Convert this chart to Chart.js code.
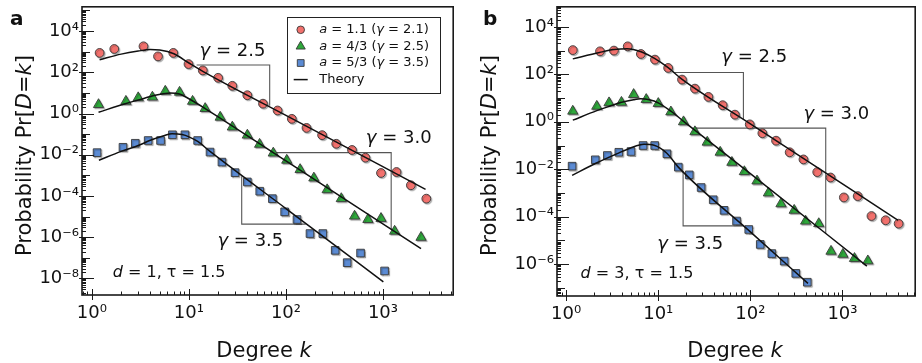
<!DOCTYPE html>
<html><head><meta charset="utf-8">
<script src="https://cdn.jsdelivr.net/npm/chart.js@4.4.1/dist/chart.umd.min.js"></script>
<style>
html,body{margin:0;padding:0;background:#fff;}
#wrap{width:922px;height:363px;display:flex;}
canvas{display:block;}
</style></head><body>
<div id="wrap"><canvas id="ca" width="460" height="363"></canvas><canvas id="cb" width="462" height="363"></canvas></div>
<script>
// ================= DATA =================
const xTickValues = [1, 10, 100, 1000];
const yTickValuesA = [1e-8, 1e-6, 1e-4, 1e-2, 1, 1e2, 1e4];
const yTickValuesB = [1e-6, 1e-4, 1e-2, 1, 1e2, 1e4];

const seriesNames = ['a = 1.1 (γ = 2.1)', 'a = 4/3 (γ = 2.5)', 'a = 5/3 (γ = 3.5)', 'Theory'];
const slopeLabels = ['2.5', '3.0', '3.5'];

// ---- Panel a: d = 1, tau = 1.5 ----
const aRedK = [1.2, 1.7, 3.4, 4.8, 6.9, 9.9, 13.9, 20, 28, 40, 58, 82, 115, 163, 236, 330, 480, 660, 955, 1380, 1940, 2800];
const aRedP = [870, 1350, 1820, 590, 870, 250, 123, 54, 22, 7.7, 3.0, 1.4, 0.55, 0.20, 0.089, 0.034, 0.017, 0.0072, 0.0013, 0.00145, 0.00033, 0.000074];
const aGreenK = [1.17, 2.24, 3.0, 4.2, 5.7, 8.0, 10.9, 14.7, 21, 28, 40, 53.5, 74, 102, 140, 194, 266, 372, 510, 700, 955, 1320, 2470];
const aGreenP = [2.7, 3.9, 5.8, 6.2, 12, 10.7, 3.9, 1.74, 0.66, 0.22, 0.089, 0.032, 0.012, 0.0054, 0.0019, 0.00074, 0.0002, 0.000074, 1.05e-5, 7.2e-6, 8.1e-6, 1.95e-6, 9.8e-7];
const aBlueK = [1.13, 2.09, 2.8, 3.8, 5.1, 6.76, 9.1, 12.3, 16.5, 21.9, 29.9, 40, 53.7, 72.5, 97, 130, 177, 240, 322, 428, 588, 1040];
const aBlueP = [0.0126, 0.023, 0.036, 0.049, 0.049, 0.093, 0.093, 0.049, 0.0135, 0.0044, 0.00135, 0.00048, 0.00017, 7.4e-5, 1.7e-5, 7.2e-6, 1.5e-6, 1.5e-6, 2.3e-7, 5.8e-8, 1.7e-7, 2.3e-8];

const aRedThK = [1.2, 2, 3, 4, 5, 7, 10, 15, 100, 2750];
const aRedThP = [407, 759, 1070, 1260, 1200, 794, 282, 91, 0.81, 0.00021];
const aGreenThK = [1.17, 2.2, 3, 4.5, 6.4, 8, 10, 14.7, 100, 2470];
const aGreenThP = [1.15, 3.0, 4.5, 7.6, 10, 8.9, 5.2, 1.74, 0.005, 2.8e-7];
const aBlueThK = [1.18, 2, 3, 4, 5.5, 6.7, 8.5, 10, 12.3, 16.5, 100, 1010];
const aBlueThP = [0.0054, 0.0145, 0.028, 0.05, 0.083, 0.105, 0.095, 0.074, 0.044, 0.0145, 2.45e-5, 6.8e-9];

const aSlopeK = [[12, 68, 68], [77, 1216, 1216], [35, 35, 160]];
const aSlopeP = [[227, 227, 2.4], [0.0126, 0.0126, 2.45e-6], [0.00091, 4.3e-6, 4.3e-6]];
const aLabelK = [28.1, 1456, 43, 6.25];
const aLabelP = [640, 0.0366, 3.7e-7, 1.2e-8];

// ---- Panel b: d = 3, tau = 1.5 ----
const bRedK = [1.18, 2.33, 3.3, 4.66, 6.47, 9.2, 12.8, 18.1, 25, 35, 50, 68, 98.4, 135, 190, 267, 377, 532, 742, 1035, 1462, 2065, 2940, 4070];
const bRedP = [1050, 930, 1000, 1510, 720, 417, 186, 60, 25, 11.2, 5.0, 2.0, 0.78, 0.33, 0.16, 0.052, 0.026, 0.0076, 0.0045, 0.00065, 0.00074, 0.000107, 7.1e-5, 5.1e-5];
const bGreenK = [1.18, 2.15, 2.92, 3.98, 5.4, 7.4, 10, 13.7, 18.8, 25, 34, 47, 63, 86, 118, 157, 215, 299, 398, 553, 751, 1010, 1350, 1885];
const bGreenP = [2.8, 4.5, 6.3, 6.6, 14.1, 8.7, 5.9, 2.6, 1.0, 0.38, 0.138, 0.052, 0.0195, 0.0079, 0.0032, 0.001, 0.00035, 0.000186, 6.5e-5, 5.1e-5, 3.5e-6, 2.6e-6, 1.74e-6, 1.38e-6];
const bBlueK = [1.16, 2.07, 2.8, 3.73, 5.06, 6.85, 9.15, 12.4, 16.5, 21.7, 29.2, 39.5, 51.8, 70.8, 96, 128, 171, 233, 311, 415];
const bBlueP = [0.0135, 0.025, 0.038, 0.052, 0.056, 0.1, 0.1, 0.045, 0.0123, 0.0058, 0.0017, 0.00052, 0.000186, 6.6e-5, 2.9e-5, 6.8e-6, 2.8e-6, 1.35e-6, 4.1e-7, 1.74e-7];

const bRedThK = [1.18, 2.3, 3.3, 4.6, 6.5, 9.2, 12.8, 18, 100, 4020];
const bRedThP = [447, 832, 1100, 1200, 891, 457, 190, 63, 0.82, 7.1e-5];
const bGreenThK = [1.18, 2.15, 3, 4, 5.4, 6.4, 8, 10, 13.7, 18.8, 100, 1840];
const bGreenThP = [1.17, 2.95, 4.6, 6.6, 8.5, 9.3, 8.5, 6.3, 2.8, 1.05, 0.0065, 8.3e-7];
const bBlueThK = [1.16, 2.07, 3.7, 5, 7, 9, 12.4, 16.5, 100, 422];
const bBlueThP = [0.0055, 0.0174, 0.048, 0.079, 0.112, 0.102, 0.047, 0.0123, 2.3e-5, 1.55e-7];

const bSlopeK = [[14.5, 84, 84], [24, 658, 658], [18.6, 18.6, 85]];
const bSlopeP = [[120, 120, 1.27], [0.54, 0.54, 1.95e-5], [0.0081, 4.1e-5, 4.1e-5]];
const bLabelK = [110, 857, 22.2, 5.87];
const bLabelP = [319, 1.34, 4.3e-6, 2.6e-7];

// ================= STYLE =================
const RED = '#f2716d', GREEN = '#2ea83b', BLUE = '#5b8bd4', EDGE = '#383838';
const FONT = '"DejaVu Sans", "Liberation Sans", sans-serif';
Chart.defaults.font.family = FONT;
Chart.defaults.color = '#111';

const SUP = {'0':'⁰','1':'¹','2':'²','3':'³','4':'⁴','5':'⁵','6':'⁶','7':'⁷','8':'⁸','9':'⁹','-':'⁻'};
function pow10Label(v) {
  const e = Math.round(Math.log10(v));
  return '10' + String(e).split('').map(c => SUP[c]).join('');
}
function pts(ks, ps) { return ks.map((k, i) => ({x: k, y: ps[i]})); }

function fontStr(p, size) { return (p.i ? 'italic ' : '') + (p.b ? 'bold ' : '') + size + 'px ' + FONT; }
function drawRich(ctx, parts, x, y, size, align) {
  const widths = parts.map(p => { ctx.font = fontStr(p, size); return ctx.measureText(p.t).width; });
  const total = widths.reduce((a, b) => a + b, 0);
  let cx = align === 'center' ? x - total / 2 : (align === 'right' ? x - total : x);
  ctx.textAlign = 'left';
  parts.forEach((p, i) => { ctx.font = fontStr(p, size); ctx.fillText(p.t, cx, y); cx += widths[i]; });
}
function legendParts(s) {
  // "a = 1.1 (γ = 2.1)" -> italic a and γ
  const out = [];
  for (const ch of s) {
    const it = (ch === 'a' || ch === 'γ');
    if (out.length && out[out.length - 1].i === it) out[out.length - 1].t += ch;
    else out.push({t: ch, i: it});
  }
  return out;
}

const markerStyles = [
  {pointStyle: 'circle', radius: 4.4, color: RED},
  {pointStyle: 'triangle', radius: 5.9, color: GREEN},
  {pointStyle: 'rect', radius: 5.4, color: BLUE}
];

function buildDatasets(points, theory, slopesK, slopesP) {
  const ds = [];
  theory.forEach(([k, p]) => ds.push({
    data: pts(k, p), showLine: true, borderColor: '#111', borderWidth: 1.5,
    pointRadius: 0, cubicInterpolationMode: 'monotone', fill: false, order: 1
  }));
  points.forEach(([k, p], i) => ds.push({
    data: pts(k, p), showLine: false, pointStyle: markerStyles[i].pointStyle,
    pointRadius: markerStyles[i].radius, pointBackgroundColor: markerStyles[i].color,
    pointBorderColor: EDGE, pointBorderWidth: 0.9, order: 2, isMarker: true
  }));
  slopesK.forEach((k, i) => ds.push({
    data: pts(k, slopesP[i]), showLine: true, borderColor: '#555', borderWidth: 1.1,
    pointRadius: 0, tension: 0, fill: false, order: 3
  }));
  return ds;
}

function decorPlugin(cfg) {
  return {
    id: 'decor' + cfg.letter,
    beforeDatasetDraw(chart, args) {
      const ds = chart.data.datasets[args.index];
      if (ds.isMarker) {
        const ctx = chart.ctx; ctx.save();
        ctx.shadowColor = 'rgba(0,0,0,0.28)'; ctx.shadowOffsetX = 1.2; ctx.shadowOffsetY = 1.2; ctx.shadowBlur = 1;
      }
    },
    afterDatasetDraw(chart, args) {
      if (chart.data.datasets[args.index].isMarker) chart.ctx.restore();
    },
    afterDraw(chart) {
      const ctx = chart.ctx;
      const {left, right, top, bottom} = chart.chartArea;
      const xs = chart.scales.x, ys = chart.scales.y;
      ctx.save();
      // tick marks
      ctx.strokeStyle = '#1a1a1a'; ctx.lineWidth = 1;
      ctx.beginPath();
      for (let n = Math.floor(Math.log10(xs.min)); n <= Math.ceil(Math.log10(xs.max)); n++) {
        for (let m = 1; m <= 9; m++) {
          const v = m * Math.pow(10, n);
          if (v < xs.min || v > xs.max) continue;
          const px = Math.round(xs.getPixelForValue(v)) + 0.5;
          if (m === 1) { ctx.moveTo(px, bottom + 5); ctx.lineTo(px, bottom - 6); }
          else { ctx.moveTo(px, bottom); ctx.lineTo(px, bottom - 3.5); }
        }
      }
      for (let n = Math.floor(Math.log10(ys.min)); n <= Math.ceil(Math.log10(ys.max)); n++) {
        for (let m = 1; m <= 9; m++) {
          const v = m * Math.pow(10, n);
          if (v < ys.min || v > ys.max) continue;
          const py = Math.round(ys.getPixelForValue(v)) + 0.5;
          let len = 4, out = 0;
          if (m === 1) { len = (n % 2 === 0) ? 12 : 8; out = (n % 2 === 0) ? 3 : 0; }
          ctx.moveTo(left - out, py); ctx.lineTo(left + len, py);
        }
      }
      ctx.stroke();
      // frame
      ctx.lineWidth = 1.6; ctx.strokeStyle = '#1a1a1a';
      ctx.strokeRect(left, top, right - left, bottom - top);

      ctx.fillStyle = '#111';
      ctx.textBaseline = 'alphabetic';
      // slope labels and parameter text (anchored in data space)
      cfg.labelK.forEach((k, i) => {
        const x = xs.getPixelForValue(k), y = ys.getPixelForValue(cfg.labelP[i]);
        if (i < 3) drawRich(ctx, [{t: 'γ', i: true}, {t: ' = ' + slopeLabels[i]}], x, y, 18, 'center');
        else drawRich(ctx, [{t: 'd', i: true}, {t: ' = ' + cfg.dValue + ', τ = 1.5'}], x, y, 16, 'center');
      });
      // panel letter
      drawRich(ctx, [{t: cfg.letter, b: true}], cfg.letterX, 24.5, 20, 'left');
      // axis titles
      drawRich(ctx, [{t: 'Degree '}, {t: 'k', i: true}], cfg.xTitleX, 356.5, 21, 'center');
      ctx.save();
      ctx.translate(cfg.yTitleX, 155.5);
      ctx.rotate(-Math.PI / 2);
      drawRich(ctx, [{t: 'Probability Pr['}, {t: 'D', i: true}, {t: '='}, {t: 'k', i: true}, {t: ']'}], 0, 0, 21, 'center');
      ctx.restore();
      // legend
      if (cfg.legend) {
        const lx = right - 166, ly = top + 10.5, w = 153, h = 76;
        ctx.fillStyle = '#fff'; ctx.fillRect(lx, ly, w, h);
        ctx.lineWidth = 1; ctx.strokeStyle = '#222';
        ctx.strokeRect(Math.round(lx) + 0.5, Math.round(ly) + 0.5, w, h);
        ctx.textBaseline = 'middle';
        seriesNames.forEach((name, i) => {
          const ry = ly + 12.5 + i * 16.6;
          const mx = lx + 13.5;
          if (i < 3) {
            const ms = markerStyles[i];
            ctx.fillStyle = ms.color; ctx.strokeStyle = EDGE; ctx.lineWidth = 0.9;
            Chart.helpers.drawPoint(ctx, {pointStyle: ms.pointStyle, radius: ms.radius - 0.6, rotation: 0, borderWidth: 0.9}, mx, ry);
          } else {
            ctx.strokeStyle = '#111'; ctx.lineWidth = 1.5;
            ctx.beginPath(); ctx.moveTo(mx - 7, ry); ctx.lineTo(mx + 7, ry); ctx.stroke();
          }
          ctx.fillStyle = '#111';
          drawRich(ctx, i < 3 ? legendParts(name) : [{t: name}], lx + 32, ry, 13, 'left');
        });
      }
      ctx.restore();
    }
  };
}

function makeChart(canvasId, cfg) {
  return new Chart(document.getElementById(canvasId), {
    type: 'line',
    data: {datasets: buildDatasets(cfg.points, cfg.theory, cfg.slopeK, cfg.slopeP)},
    options: {
      responsive: false, animation: false, devicePixelRatio: 1, events: [],
      layout: {padding: {left: 0, right: cfg.padRight, top: 6, bottom: 0}},
      plugins: {legend: {display: false}, tooltip: {enabled: false}},
      scales: {
        x: {
          type: 'logarithmic', min: cfg.xMin, max: cfg.xMax, position: 'bottom',
          grid: {display: false, drawTicks: false}, border: {display: false},
          ticks: {autoSkip: false, maxRotation: 0, minRotation: 0, padding: 8, color: '#111', font: {size: 18}, callback: v => pow10Label(v)},
          afterBuildTicks: s => { s.ticks = xTickValues.map(v => ({value: v})); },
          afterFit: s => { s.height = cfg.xAxisH; s.paddingLeft = 0; s.paddingRight = 0; }
        },
        y: {
          type: 'logarithmic', min: cfg.yMin, max: cfg.yMax, position: 'left',
          grid: {display: false, drawTicks: false}, border: {display: false},
          ticks: {autoSkip: false, padding: 3, color: '#111', font: {size: 18}, callback: v => pow10Label(v)},
          afterBuildTicks: s => { s.ticks = cfg.yTicks.map(v => ({value: v})); },
          afterFit: s => { s.width = cfg.yAxisW; s.paddingTop = 0; s.paddingBottom = 0; }
        }
      }
    },
    plugins: [decorPlugin(cfg)]
  });
}

makeChart('ca', {
  letter: 'a', letterX: 10, dValue: '1', legend: true,
  xTitleX: 264, yTitleX: 31,
  points: [[aRedK, aRedP], [aGreenK, aGreenP], [aBlueK, aBlueP]],
  theory: [[aRedThK, aRedThP], [aGreenThK, aGreenThP], [aBlueThK, aBlueThP]],
  slopeK: aSlopeK, slopeP: aSlopeP, labelK: aLabelK, labelP: aLabelP,
  xMin: 0.79, xMax: 5300, yMin: 1.57e-9, yMax: 1.5e5, yTicks: yTickValuesA,
  padRight: 3, xAxisH: 68, yAxisW: 82
});
makeChart('cb', {
  letter: 'b', letterX: 23, dValue: '3', legend: false,
  xTitleX: 275, yTitleX: 36,
  points: [[bRedK, bRedP], [bGreenK, bGreenP], [bBlueK, bBlueP]],
  theory: [[bRedThK, bRedThP], [bGreenThK, bGreenThP], [bBlueThK, bBlueThP]],
  slopeK: bSlopeK, slopeP: bSlopeP, labelK: bLabelK, labelP: bLabelP,
  xMin: 0.795, xMax: 6160, yMin: 4.57e-8, yMax: 7e4, yTicks: yTickValuesB,
  padRight: 2, xAxisH: 67, yAxisW: 97
});
</script>
</body></html>
